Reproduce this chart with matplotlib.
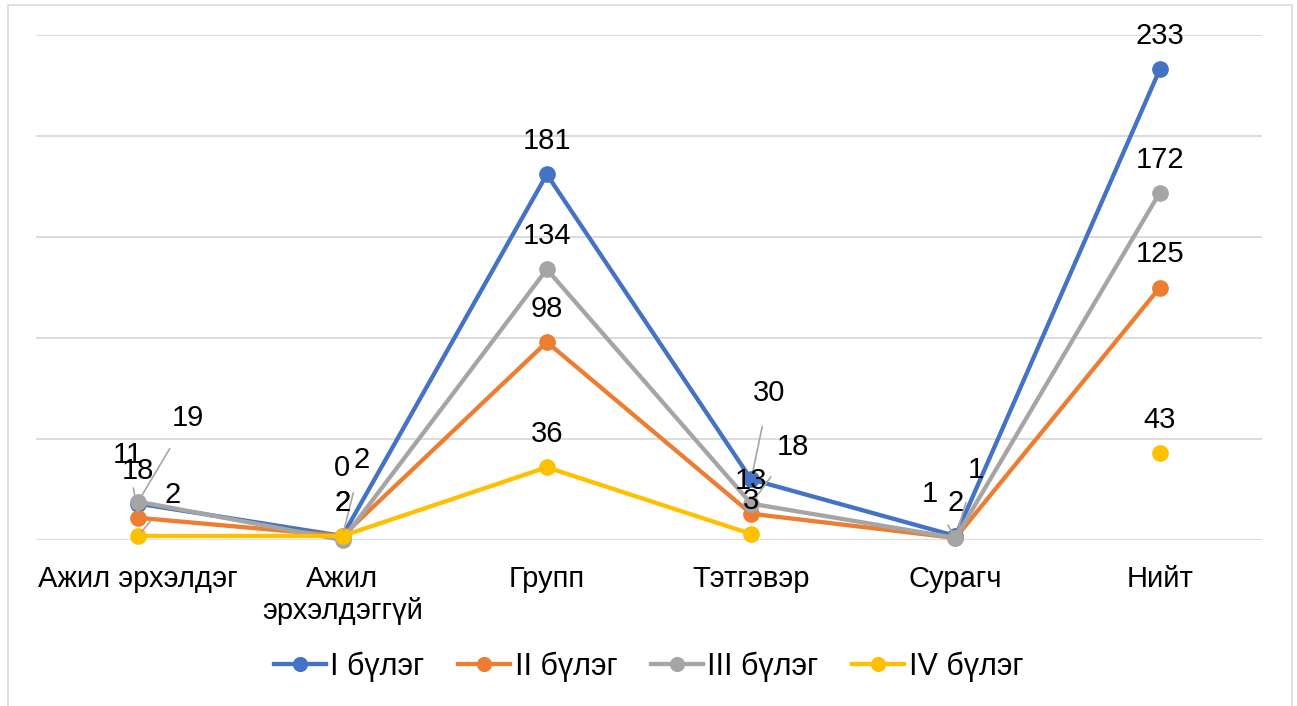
import numpy as np
import matplotlib.pyplot as plt
from matplotlib.patches import Rectangle

# ---------------------------------------------------------------------------
# Data
# ---------------------------------------------------------------------------
categories = ["Ажил эрхэлдэг", "Ажил\nэрхэлдэггүй", "Групп", "Тэтгэвэр", "Сурагч", "Нийт"]
series_names = ["I бүлэг", "II бүлэг", "III бүлэг", "IV бүлэг"]

group_1 = [18, 2, 181, 30, 2, 233]
group_2 = [11, 2, 98, 13, 1, 125]
group_3 = [19, 0, 134, 18, 1, 172]
group_4 = [2, 2, 36, 3, np.nan, 43]

colors = ["#4472C4", "#ED7D31", "#A5A5A5", "#FFC000"]

# label offsets (pixels) where the labels were dragged away from the default
# "above" position; value = (dx, dy, leader line?)
DEFAULT = (0, 33, False)
moved = {
    (0, 3): (18, 86, True),
    (1, 0): (-10, 63, True),
    (1, 1): (19, 76, True),
    (1, 4): (-26, 44, True),
    (2, 0): (50, 84, True),
    (2, 1): (-1, 72, False),
    (2, 3): (42, 57, True),
    (2, 4): (20, 68, True),
    (3, 0): (34, 41, True),
}

plt.rcParams["font.family"] = ["Liberation Sans", "DejaVu Sans"]

fig = plt.figure(figsize=(12.97, 7.06), dpi=100)
ax = fig.add_axes([36 / 1297, 1 - 540 / 706, 1226 / 1297, 505 / 706])

x = np.arange(len(categories))
all_series = [group_1, group_2, group_3, group_4]

for i, (vals, name, c) in enumerate(zip(all_series, series_names, colors)):
    ax.plot(x, vals, "-o", color=c, lw=3.1, ms=11, label=name,
            clip_on=False, zorder=3 + i)

for i, vals in enumerate(all_series):
    for j, v in enumerate(vals):
        if np.isnan(v):
            continue
        dx, dy, leader = moved.get((i, j), DEFAULT)
        arrow = None
        if leader:
            arrow = dict(arrowstyle="-", color="#A6A6A6", lw=1.2,
                         shrinkA=12, shrinkB=4)
        ax.annotate(f"{v:g}", (x[j], v), xytext=(dx, dy),
                    textcoords="offset pixels", ha="center", va="center",
                    fontsize=21, color="black", arrowprops=arrow, zorder=10,
                    annotation_clip=False)

ax.set_xlim(-0.5, len(categories) - 0.5)
ax.set_ylim(0, 250)
ax.set_yticks(np.arange(0, 251, 50))
ax.yaxis.grid(True, color="#D9D9D9", lw=1.3)
ax.set_axisbelow(True)
ax.tick_params(axis="y", left=False, labelleft=False)
ax.set_xticks(x)
ax.set_xticklabels(categories, fontsize=21, linespacing=1.2)
ax.tick_params(axis="x", length=0, pad=18)
for s in ax.spines.values():
    s.set_visible(False)

ax.legend(loc="center", bbox_to_anchor=(0.5, 1 - 667 / 706),
          bbox_transform=fig.transFigure, ncol=4, frameon=False,
          fontsize=22, handlelength=1.7, handletextpad=0.15,
          columnspacing=1.1, markerscale=0.9)

# thin chart border
fig.patches.append(Rectangle((8 / 1297, -0.01), 1284 / 1297, 1 - 5 / 706 + 0.01,
                             transform=fig.transFigure, fill=False,
                             edgecolor="#D9D9D9", lw=1.2))

fig.savefig("out.png", dpi=100)
